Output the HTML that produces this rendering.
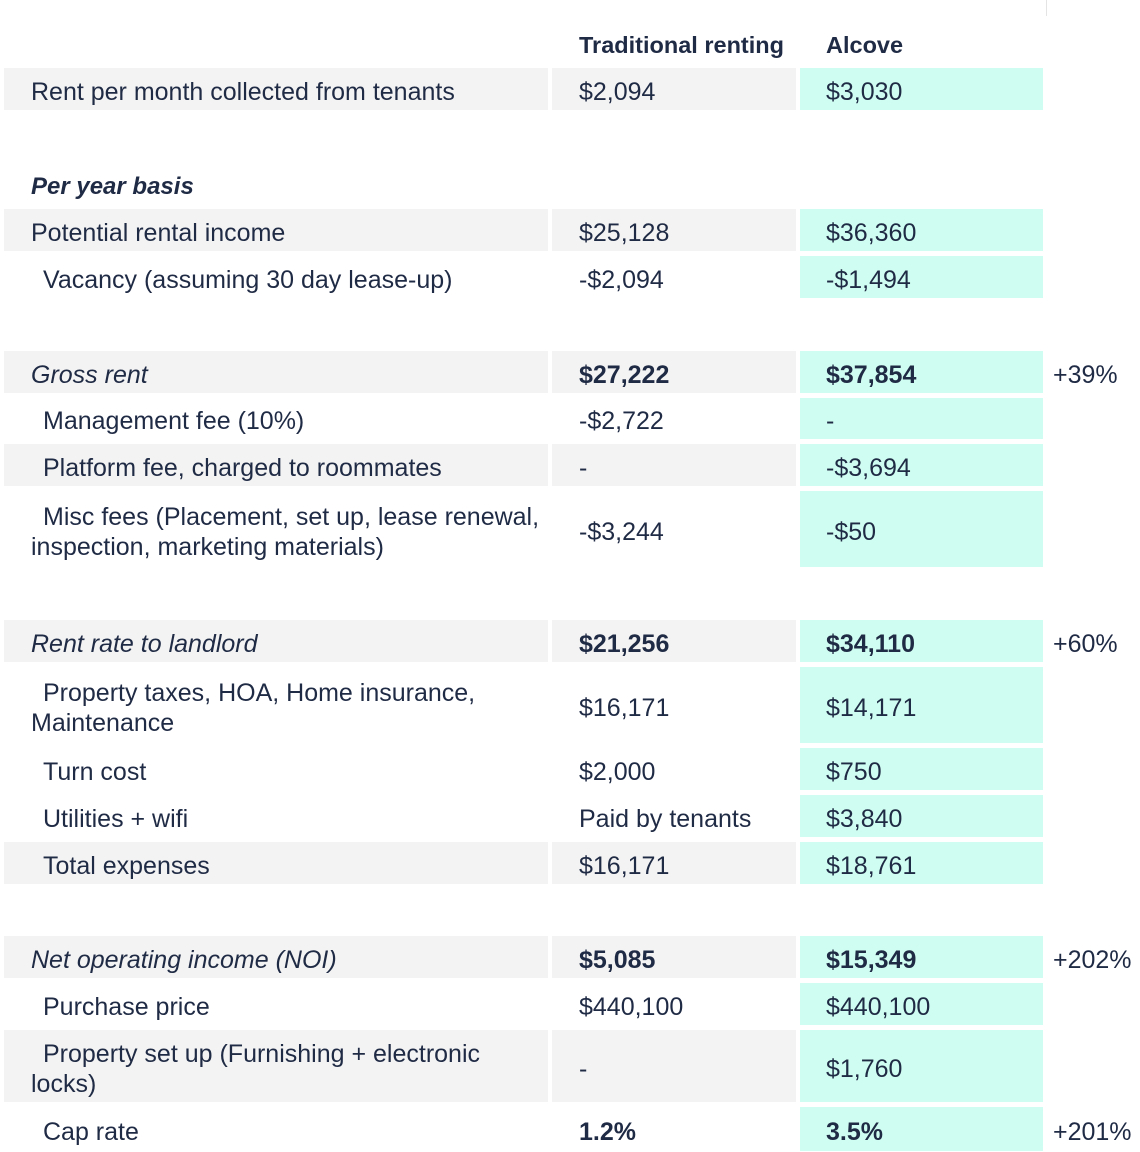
<!DOCTYPE html>
<html><head><meta charset="utf-8"><style>
html,body{margin:0;padding:0;background:#fff;}
#wrap{position:relative;width:1140px;height:1152px;overflow:hidden;font-family:"Liberation Sans",sans-serif;color:#1f2a44;font-size:25px;}
.cell{position:absolute;box-sizing:border-box;display:flex;align-items:center;line-height:30px;white-space:nowrap;padding-top:5px;}
.g{background:#f3f3f3;}
.m{background:#d0fdf1;}
.b{font-weight:bold;}
.i{font-style:italic;}
.hdr{position:absolute;font-weight:bold;font-size:23.5px;}
</style></head><body>
<div id="wrap">
<div style="position:absolute;left:1046px;top:0;width:1px;height:16px;background:#e4e4e4"></div>
<div class="hdr" style="left:579px;top:32px">Traditional renting</div>
<div class="hdr" style="left:826px;top:32px">Alcove</div>
<div class="hdr i" style="left:31px;top:173px;font-size:24px">Per year basis</div>
</div>
<script>
const labels=["Rent per month collected from tenants","Potential rental income","  Vacancy (assuming 30 day lease-up)","Gross rent","  Management fee (10%)","  Platform fee, charged to roommates","  Misc fees (Placement, set up, lease renewal,|inspection, marketing materials)","Rent rate to landlord","  Property taxes, HOA, Home insurance,|Maintenance","  Turn cost","  Utilities + wifi","  Total expenses","Net operating income (NOI)","  Purchase price","  Property set up (Furnishing + electronic|locks)","  Cap rate"];
const traditional=["$2,094","$25,128","-$2,094","$27,222","-$2,722","-","-$3,244","$21,256","$16,171","$2,000","Paid by tenants","$16,171","$5,085","$440,100","-","1.2%"];
const alcove=["$3,030","$36,360","-$1,494","$37,854","-","-$3,694","-$50","$34,110","$14,171","$750","$3,840","$18,761","$15,349","$440,100","$1,760","3.5%"];
const changes=["","","","+39%","","","","+60%","","","","","+202%","","","+201%"];
const rowTops=[68,209,256,351,398,444,491,620,667,748,795,842,936,983,1030,1107];
const rowHeights=[42,42,42,42,41,42,76,42,76,42,42,42,42,42,72,44];
const gray=[1,1,0,1,0,1,0,1,0,0,0,1,1,0,1,0];
const styles=["","","","bi","","","","bi","","","","","bi","","","b"];
const wrap=document.getElementById('wrap');
function mk(cls,left,top,w,h,pad){const d=document.createElement('div');d.className='cell '+cls;d.style.left=left+'px';d.style.top=top+'px';d.style.width=w+'px';d.style.height=h+'px';d.style.paddingLeft=pad+'px';wrap.appendChild(d);return d;}
labels.forEach((lab,k)=>{
  const t=rowTops[k],h=rowHeights[k],g=gray[k]?'g':'';
  const st=styles[k];
  const c1=mk(g+(st.includes('i')?' i':''),4,t,544,h,27);
  
  
  const parts=lab.split('|');
  c1.innerHTML='<span>'+parts.map(p=>p.replace(/^  /,'<span style="display:inline-block;width:12px"></span>')).join('<br>')+'</span>';
  const c2=mk(g+(st.includes('b')?' b':''),552,t,244,h,27);
  
  
  c2.textContent=traditional[k];
  const c3=mk('m'+(st.includes('b')?' b':''),800,t,243,h,26);
  
  
  c3.textContent=alcove[k];
  if(changes[k]){const c4=mk('',1053,t,87,h,0);
    
    
    c4.textContent=changes[k];}
});
</script>
</body></html>
